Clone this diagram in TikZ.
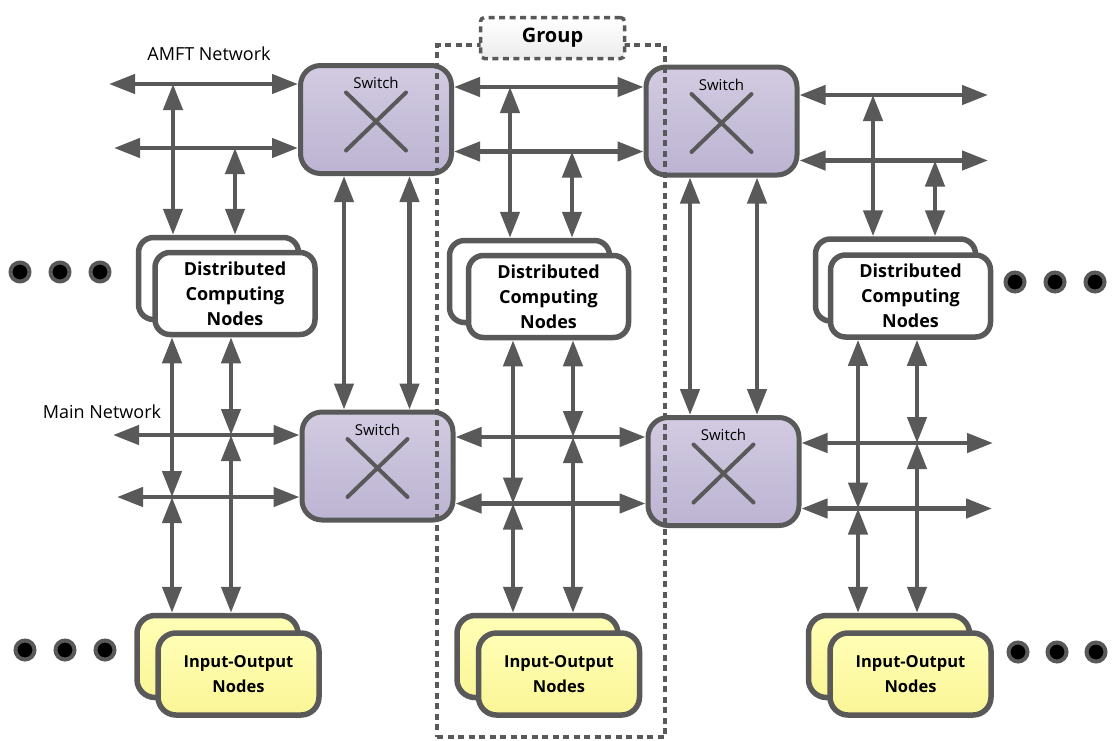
\documentclass[tikz,border=0pt]{standalone}
\usepackage{fontspec}
\setsansfont{Open Sans}
\usetikzlibrary{arrows.meta}
\definecolor{linegray}{HTML}{595959}
\definecolor{swtop}{RGB}{210,203,225}
\definecolor{swbot}{RGB}{188,180,210}
\definecolor{iotop}{RGB}{255,255,182}
\definecolor{iobot}{RGB}{250,245,150}
\definecolor{grpbot}{RGB}{236,236,236}
\begin{document}
\begin{tikzpicture}[x=1pt,y=-1pt,
  tipshape/.tip={Triangle[length=26pt,width=19pt]},
  biarrow/.style={draw=linegray, line width=4.5pt, {tipshape}-{tipshape}},
  switchbox/.style={draw=linegray, line width=5pt, rounded corners=20pt,
    top color=swtop, bottom color=swbot, minimum width=151pt, minimum height=108pt, inner sep=0pt},
  swlabel/.style={font=\sffamily\fontsize{15}{18}\selectfont, inner sep=0pt},
  xline/.style={draw=linegray, line width=4pt, line cap=round},
  dcnbox/.style={draw=linegray, line width=5.5pt, rounded corners=15pt, fill=white,
    minimum width=160pt, minimum height=82pt, align=center, inner sep=0pt,
    font=\sffamily\bfseries\fontsize{18}{25}\selectfont},
  iobox/.style={draw=linegray, line width=5.5pt, rounded corners=18pt,
    top color=iotop, bottom color=iobot,
    minimum width=161pt, minimum height=82pt, align=center, inner sep=0pt,
    font=\sffamily\bfseries\fontsize{16.5}{25}\selectfont},
  netlabel/.style={font=\sffamily\fontsize{18}{22}\selectfont, inner sep=0pt},
  dotc/.style={circle, draw=linegray, fill=black, line width=4pt, minimum size=19pt, inner sep=0pt},
  groupframe/.style={draw=linegray, line width=3.5pt, dash pattern=on 6pt off 4.5pt,
    minimum width=228pt, minimum height=692pt, inner sep=0pt},
  grouplabel/.style={draw=linegray, line width=3.5pt, dash pattern=on 6pt off 4.5pt,
    rounded corners=4pt, top color=white, bottom color=grpbot,
    minimum width=144pt, minimum height=41pt, inner sep=0pt,
    font=\sffamily\bfseries\fontsize{20}{24}\selectfont}]
\useasboundingbox (0,0) rectangle (1113,740);

% ---- switches ----
\node[switchbox] (S1) at (376,119.5) {};
\node[switchbox] (S2) at (721.5,121) {};
\node[switchbox] (S3) at (377.5,466) {};
\node[switchbox] (S4) at (723.5,471.5) {};
\foreach \s in {S1,S2,S3,S4}{
  \node[swlabel] (\s lab) at ([yshift=-20pt]\s.north) {Switch};
  \draw[xline] ([shift={(-30,-27)}]\s.center) -- ([shift={(30,31)}]\s.center);
  \draw[xline] ([shift={(30,-27)}]\s.center) -- ([shift={(-30,31)}]\s.center);
}

% ---- distributed computing nodes (stacked pairs) ----
\node[dcnbox] (D1b) at (218.5,278.5) {};
\node[dcnbox] (D1f) at (235,293.5) {Distributed\\Computing\\Nodes};
\node[dcnbox] (D2b) at (529.5,281.5) {};
\node[dcnbox] (D2f) at (548.5,296.5) {Distributed\\Computing\\Nodes};
\node[dcnbox] (D3b) at (895.5,280) {};
\node[dcnbox] (D3f) at (910.5,296) {Distributed\\Computing\\Nodes};

% ---- input-output nodes (stacked pairs) ----
\node[iobox] (I1b) at (217.5,656.5) {};
\node[iobox] (I1f) at (238.5,674) {Input-Output\\Nodes};
\node[iobox] (I2b) at (537.5,656.5) {};
\node[iobox] (I2f) at (559,674) {Input-Output\\Nodes};
\node[iobox] (I3b) at (889,656.5) {};
\node[iobox] (I3f) at (910.5,674) {Input-Output\\Nodes};

% ---- network labels ----
\node[netlabel] (amft) at (209,54) {AMFT Network};
\node[netlabel] (mainnet) at (102,412) {Main Network};

% ---- continuation dots ----
\foreach \n/\x/\y in {l1/20/272, l2/60/272, l3/100/272,
                      r1/1015/282, r2/1055/282, r3/1095/282,
                      m1/25/650, m2/65/650, m3/105/650,
                      n1/1018/652, n2/1057/652, n3/1096/652}
  \node[dotc] (dot\n) at (\x,\y) {};

% ---- AMFT network links ----
\coordinate (p1h1) at (109,84);
\coordinate (p1h2) at (114,148);
\coordinate (p1v1) at (173,84);
\coordinate (p1v2) at (235,148);
\draw[biarrow] (p1h1) -- (p1h1 -| S1.west);
\draw[biarrow] (p1h2) -- (p1h2 -| S1.west);
\draw[biarrow] (p1v1) -- (p1v1 |- D1b.north);
\draw[biarrow] (p1v2) -- (p1v2 |- D1b.north);

\coordinate (p2v1) at (510,87);
\coordinate (p2v2) at (572,151.5);
\draw[biarrow] (p2v1 -| S1.east) -- (p2v1 -| S2.west);
\draw[biarrow] (p2v2 -| S1.east) -- (p2v2 -| S2.west);
\draw[biarrow] (p2v1) -- (p2v1 |- D2b.north);
\draw[biarrow] (p2v2) -- (p2v2 |- D2b.north);

\coordinate (p3e1) at (988,95);
\coordinate (p3e2) at (988,160.5);
\coordinate (p3v1) at (873,95);
\coordinate (p3v2) at (935,160.5);
\draw[biarrow] (p3e1 -| S2.east) -- (p3e1);
\draw[biarrow] (p3e2 -| S2.east) -- (p3e2);
\draw[biarrow] (p3v1) -- (p3v1 |- D3b.north);
\draw[biarrow] (p3v2) -- (p3v2 |- D3b.north);

% ---- switch-to-switch links ----
\coordinate (k1) at (344,0);
\coordinate (k2) at (409.5,0);
\coordinate (k3) at (690,0);
\coordinate (k4) at (757,0);
\draw[biarrow] (k1 |- S1.south) -- (k1 |- S3.north);
\draw[biarrow] (k2 |- S1.south) -- (k2 |- S3.north);
\draw[biarrow] (k3 |- S2.south) -- (k3 |- S4.north);
\draw[biarrow] (k4 |- S2.south) -- (k4 |- S4.north);

% ---- main network links ----
\coordinate (q1h1) at (113,435);
\coordinate (q1h2) at (117,497);
\coordinate (q1a) at (172,497);
\coordinate (q1b) at (231,435);
\draw[biarrow] (q1h1) -- (q1h1 -| S3.west);
\draw[biarrow] (q1h2) -- (q1h2 -| S3.west);
\draw[biarrow] (q1a |- D1f.south) -- (q1a);
\draw[biarrow] (q1a) -- (q1a |- I1b.north);
\draw[biarrow] (q1b |- D1f.south) -- (q1b);
\draw[biarrow] (q1b) -- (q1b |- I1b.north);

\coordinate (q2a) at (513,503.5);
\coordinate (q2b) at (573,437);
\draw[biarrow] (q2b -| S3.east) -- (q2b -| S4.west);
\draw[biarrow] (q2a -| S3.east) -- (q2a -| S4.west);
\draw[biarrow] (q2a |- D2f.south) -- (q2a);
\draw[biarrow] (q2a) -- (q2a |- I2b.north);
\draw[biarrow] (q2b |- D2f.south) -- (q2b);
\draw[biarrow] (q2b) -- (q2b |- I2b.north);

\coordinate (q3e1) at (993,443);
\coordinate (q3e2) at (992,508.5);
\coordinate (q3a) at (858,508.5);
\coordinate (q3b) at (917,443);
\draw[biarrow] (q3e1 -| S4.east) -- (q3e1);
\draw[biarrow] (q3e2 -| S4.east) -- (q3e2);
\draw[biarrow] (q3a |- D3f.south) -- (q3a);
\draw[biarrow] (q3a) -- (q3a |- I3b.north);
\draw[biarrow] (q3b |- D3f.south) -- (q3b);
\draw[biarrow] (q3b) -- (q3b |- I3b.north);

% ---- group outline ----
\node[groupframe] (grp) at (551,391) {};
\node[grouplabel] (grplab) at (552.5,38) {Group};
\end{tikzpicture}
\end{document}
